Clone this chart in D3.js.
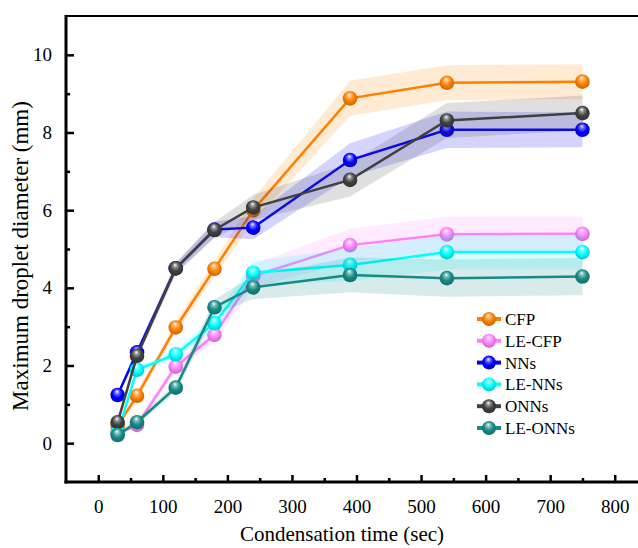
<!DOCTYPE html>
<html>
<head>
<meta charset="utf-8">
<script src="https://cdn.jsdelivr.net/npm/d3@7"></script>
<style>
  html, body { margin: 0; padding: 0; background: #fff; }
</style>
</head>
<body>
<div id="chart"></div>
<script>
// condensation time (sec)
var times = [30, 60, 120, 180, 240, 390, 540, 750];

var seriesNames = ['CFP', 'LE-CFP', 'NNs', 'LE-NNs', 'ONNs', 'LE-ONNs'];
var seriesColors = ['#ff8000', '#ff80ff', '#0000ff', '#00ffff', '#404040', '#178a86'];

// maximum droplet diameter (mm)
var cfp    = [0.45, 1.22, 2.98, 4.49, 6.00, 8.88, 9.28, 9.31];
var leCfp  = [0.25, 0.47, 1.97, 2.79, 4.30, 5.10, 5.38, 5.39];
var nns    = [1.24, 2.34, 4.50, 5.50, 5.55, 7.29, 8.07, 8.07];
var leNns  = [0.28, 1.89, 2.29, 3.09, 4.39, 4.59, 4.92, 4.92];
var onns   = [0.54, 2.25, 4.50, 5.49, 6.07, 6.78, 8.31, 8.50];
var leOnns = [0.21, 0.54, 1.43, 3.50, 4.01, 4.33, 4.25, 4.29];

// half width of the shaded band
var cfpErr    = [0.05, 0.10, 0.15, 0.20, 0.30, 0.45, 0.45, 0.45];
var leCfpErr  = [0.05, 0.08, 0.12, 0.18, 0.30, 0.42, 0.45, 0.45];
var nnsErr    = [0.05, 0.10, 0.12, 0.20, 0.30, 0.43, 0.47, 0.45];
var leNnsErr  = [0.05, 0.08, 0.12, 0.18, 0.30, 0.42, 0.45, 0.45];
var onnsErr   = [0.05, 0.10, 0.15, 0.20, 0.33, 0.43, 0.45, 0.45];
var leOnnsErr = [0.05, 0.08, 0.12, 0.20, 0.30, 0.45, 0.48, 0.48];

var xTicks = [0, 100, 200, 300, 400, 500, 600, 700, 800];
var xMinor = [50, 150, 250, 350, 450, 550, 650, 750];
var yTicks = [0, 2, 4, 6, 8, 10];
var yMinor = [1, 3, 5, 7, 9];

var values = [cfp, leCfp, nns, leNns, onns, leOnns];
var errors = [cfpErr, leCfpErr, nnsErr, leNnsErr, onnsErr, leOnnsErr];

var serif = '"Liberation Serif", "Times New Roman", Times, "DejaVu Serif", serif';

var width = 638, height = 548;
var plotLeft = 66, plotTop = 16, plotRight = 647, plotBottom = 482;

var svg = d3.select('#chart').append('svg')
	.attr('width', width)
	.attr('height', height)
	.attr('font-family', serif);

var x = d3.scaleLinear().domain([-50, 850]).range([plotLeft, plotRight]);
var y = d3.scaleLinear().domain([-1, 11]).range([plotBottom, plotTop]);

var defs = svg.append('defs');
seriesColors.forEach(function (c, i) {
	var g = defs.append('radialGradient')
		.attr('id', 'ball' + i)
		.attr('cx', '50%').attr('cy', '45%').attr('r', '60%')
		.attr('fx', '45%').attr('fy', '25%');
	g.append('stop').attr('offset', '0%').attr('stop-color', '#ffffff');
	g.append('stop').attr('offset', '22%').attr('stop-color', d3.interpolateRgb(c, '#ffffff')(0.45));
	g.append('stop').attr('offset', '55%').attr('stop-color', c);
	g.append('stop').attr('offset', '100%').attr('stop-color', d3.interpolateRgb(c, '#000000')(0.25));
});

var plot = svg.append('g');

var area = d3.area()
	.x(function (d) { return x(d.t); })
	.y0(function (d) { return y(d.v - d.e); })
	.y1(function (d) { return y(d.v + d.e); });

var line = d3.line()
	.x(function (d) { return x(d.t); })
	.y(function (d) { return y(d.v); });

values.forEach(function (vals, s) {
	var pts = times.map(function (t, i) {
		return {t: t, v: vals[i], e: errors[s][i]};
	});
	var g = plot.append('g');

	g.append('path')
		.datum(pts)
		.attr('d', area)
		.attr('fill', seriesColors[s])
		.attr('fill-opacity', 0.17);

	g.append('path')
		.datum(pts)
		.attr('d', line)
		.attr('fill', 'none')
		.attr('stroke', seriesColors[s])
		.attr('stroke-width', 2.5);

	g.selectAll('circle')
		.data(pts)
		.enter()
		.append('circle')
		.attr('cx', function (d) { return x(d.t); })
		.attr('cy', function (d) { return y(d.v); })
		.attr('r', 7.3)
		.attr('fill', 'url(#ball' + s + ')');
});

// axes
var axes = svg.append('g');

axes.append('line')
	.attr('x1', plotLeft).attr('x2', plotRight)
	.attr('y1', plotTop).attr('y2', plotTop)
	.attr('stroke', '#000').attr('stroke-width', 2);

axes.append('line')
	.attr('x1', plotLeft).attr('x2', plotLeft)
	.attr('y1', plotTop - 1).attr('y2', plotBottom + 1.5)
	.attr('stroke', '#000').attr('stroke-width', 3);

axes.append('line')
	.attr('x1', plotLeft - 1.5).attr('x2', plotRight)
	.attr('y1', plotBottom).attr('y2', plotBottom)
	.attr('stroke', '#000').attr('stroke-width', 3);

var xAxis = axes.append('g')
	.attr('transform', 'translate(0,' + plotBottom + ')')
	.call(d3.axisBottom(x).tickValues(xTicks).tickSizeInner(-7).tickSizeOuter(0).tickPadding(18));
var xAxisMinor = axes.append('g')
	.attr('transform', 'translate(0,' + plotBottom + ')')
	.call(d3.axisBottom(x).tickValues(xMinor).tickSizeInner(-4).tickSizeOuter(0).tickFormat(''));

var yAxis = axes.append('g')
	.attr('transform', 'translate(' + plotLeft + ',0)')
	.call(d3.axisLeft(y).tickValues(yTicks).tickSizeInner(-8).tickSizeOuter(0).tickPadding(14));
var yAxisMinor = axes.append('g')
	.attr('transform', 'translate(' + plotLeft + ',0)')
	.call(d3.axisLeft(y).tickValues(yMinor).tickSizeInner(-4).tickSizeOuter(0).tickFormat(''));

[xAxis, xAxisMinor, yAxis, yAxisMinor].forEach(function (a) {
	a.attr('font-family', serif).attr('font-size', 19);
	a.select('.domain').remove();
	a.selectAll('.tick line').attr('stroke', '#000').attr('stroke-width', 2.5);
	a.selectAll('.tick text').attr('fill', '#000');
});

svg.append('text')
	.attr('x', 342)
	.attr('y', 541)
	.attr('text-anchor', 'middle')
	.attr('font-size', 21)
	.text('Condensation time (sec)');

svg.append('text')
	.attr('transform', 'translate(28,' + 256 + '),rotate(-90)')
	.attr('text-anchor', 'middle')
	.attr('font-size', 23)
	.text('Maximum droplet diameter (mm)');

// legend
var legend = svg.append('g')
	.attr('transform', 'translate(489,319)');

var item = legend.selectAll('g.item')
	.data(seriesNames)
	.enter()
	.append('g')
	.attr('class', 'item')
	.attr('transform', function (d, i) { return 'translate(0,' + (i * 21.8) + ')'; });

item.append('line')
	.attr('x1', -12).attr('x2', 12)
	.attr('y1', 0).attr('y2', 0)
	.attr('stroke', function (d, i) { return seriesColors[i]; })
	.attr('stroke-width', 4);

item.append('circle')
	.attr('r', 7)
	.attr('fill', function (d, i) { return 'url(#ball' + i + ')'; });

item.append('text')
	.attr('x', 16)
	.attr('y', 6)
	.attr('font-size', 17)
	.text(function (d) { return d; });
</script>
</body>
</html>
